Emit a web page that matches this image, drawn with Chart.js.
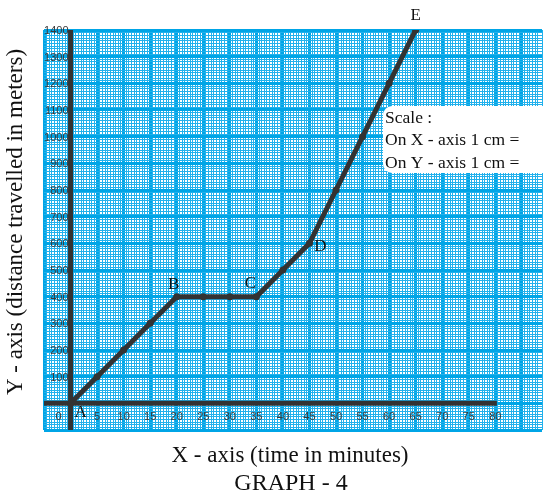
<!DOCTYPE html>
<html>
<head>
<meta charset="utf-8">
<script src="https://cdn.jsdelivr.net/npm/chart.js@4/dist/chart.umd.min.js"></script>
<style>
html,body{margin:0;padding:0;background:#fff;}
canvas{display:block;}
</style>
</head>
<body>
<canvas id="c" width="546" height="500"></canvas>
<script>
// ---- data ----
const timeMinutes = [0, 5, 10, 15, 20, 25, 30, 35, 40, 45, 50, 55, 60, 65];
const distanceMeters = [0, 100, 200, 300, 400, 400, 400, 400, 500, 600, 800, 1000, 1200, 1400];
const pointNames = ['A', 'B', 'C', 'D', 'E'];
const namedPointIndex = [0, 4, 7, 9, 13];
const xTickValues = [0, 5, 10, 15, 20, 25, 30, 35, 40, 45, 50, 55, 60, 65, 70, 75, 80];
const xTickLabels = ['0', '5', '10', '15', '20', '25', '30', '35', '40', '45', '50', '55', '60', '65', '70', '75', '80'];
const yTickValues = [100, 200, 300, 400, 500, 600, 700, 800, 900, 1000, 1100, 1200, 1300, 1400];
const yTickLabels = ['100', '200', '300', '400', '500', '600', '700', '800', '900', '1000', '1100', '1200', '1300', '1400'];
const xTitle = 'X - axis (time in minutes)';
const yTitle = 'Y - axis (distance travelled in meters)';
const graphTitle = 'GRAPH - 4';
const scaleNote = ['Scale :', 'On X - axis 1 cm =', 'On Y - axis 1 cm ='];

const points = timeMinutes.map((t, i) => ({x: t, y: distanceMeters[i]}));

const isMult = (v, m) => Math.abs(v / m - Math.round(v / m)) < 1e-6;
const MAJOR = '#00a5e6', MINOR = '#22b1ec';
const INK = '#333333';
const SERIF = '"Liberation Serif", "Times New Roman", serif';

const overlay = {
  id: 'overlay',
  beforeDatasetsDraw(chart) {
    const {ctx, scales: {x, y}, chartArea: a} = chart;
    ctx.save();
    ctx.strokeStyle = INK;
    ctx.lineWidth = 5;
    ctx.beginPath();
    ctx.moveTo(x.getPixelForValue(-5), y.getPixelForValue(0));
    ctx.lineTo(x.getPixelForValue(80.3), y.getPixelForValue(0));
    ctx.stroke();
    ctx.beginPath();
    ctx.moveTo(x.getPixelForValue(0), a.top);
    ctx.lineTo(x.getPixelForValue(0), a.bottom);
    ctx.stroke();
    ctx.restore();
  },
  afterDraw(chart) {
    const {ctx, scales: {x, y}} = chart;
    ctx.save();
    // tick labels
    ctx.fillStyle = '#3a3a3a';
    ctx.font = '11px "Liberation Sans", Arial, sans-serif';
    ctx.textBaseline = 'middle';
    ctx.textAlign = 'center';
    xTickValues.forEach((v, i) => {
      const px = x.getPixelForValue(v) + (v === 0 ? -12 : 0);
      ctx.fillText(xTickLabels[i], px, y.getPixelForValue(-50));
    });
    ctx.textAlign = 'right';
    yTickValues.forEach((v, i) => {
      ctx.fillText(yTickLabels[i], x.getPixelForValue(0) - 2, y.getPixelForValue(v) + 1);
    });
    // point names
    ctx.fillStyle = '#111';
    ctx.font = '17px ' + SERIF;
    ctx.textAlign = 'center';
    const offs = [[10, 9], [-3, -12], [-6, -13], [11, 3], [0, -14]];
    namedPointIndex.forEach((idx, k) => {
      const px = x.getPixelForValue(timeMinutes[idx]);
      const py = y.getPixelForValue(distanceMeters[idx]);
      ctx.fillText(pointNames[k], px + offs[k][0], py + offs[k][1]);
    });
    // scale note box
    ctx.fillStyle = '#ffffff';
    ctx.beginPath();
    ctx.roundRect(383, 106, 175, 67, 9);
    ctx.fill();
    ctx.fillStyle = '#111';
    ctx.textAlign = 'left';
    ctx.font = '17.5px ' + SERIF;
    scaleNote.forEach((s, i) => ctx.fillText(s, 385, 118 + i * 22.5));
    // axis titles
    ctx.textBaseline = 'alphabetic';
    ctx.textAlign = 'center';
    ctx.font = '23px ' + SERIF;
    ctx.fillText(xTitle, 290, 462);
    ctx.font = '24px ' + SERIF;
    ctx.fillText(graphTitle, 291, 490);
    ctx.font = '23px ' + SERIF;
    ctx.textBaseline = 'middle';
    ctx.translate(16, 222);
    ctx.rotate(-Math.PI / 2);
    ctx.fillText(yTitle, 0, 0);
    ctx.restore();
  }
};

new Chart(document.getElementById('c'), {
  type: 'line',
  data: {
    datasets: [{
      data: points,
      borderColor: INK,
      backgroundColor: INK,
      borderWidth: 5,
      pointRadius: 3.5,
      pointBackgroundColor: INK,
      pointBorderWidth: 0,
      tension: 0,
      fill: false
    }]
  },
  options: {
    responsive: false,
    animation: false,
    devicePixelRatio: 1,
    layout: {padding: {left: 44, top: 30, right: 0, bottom: 70}},
    plugins: {legend: {display: false}, tooltip: {enabled: false}},
    scales: {
      x: {
        type: 'linear', min: -5, max: 88.8,
        ticks: {display: false, stepSize: 0.5},
        border: {display: false},
        grid: {
          drawTicks: false,
          color: c => isMult(c.tick.value, 5) ? MAJOR : MINOR,
          lineWidth: c => isMult(c.tick.value, 5) ? 3 : 1
        }
      },
      y: {
        type: 'linear', min: -100, max: 1400,
        ticks: {display: false, stepSize: 10},
        border: {display: false},
        grid: {
          drawTicks: false,
          color: c => isMult(c.tick.value, 100) ? MAJOR : MINOR,
          lineWidth: c => isMult(c.tick.value, 100) ? 3 : 1
        }
      }
    }
  },
  plugins: [overlay]
});
</script>
</body>
</html>
